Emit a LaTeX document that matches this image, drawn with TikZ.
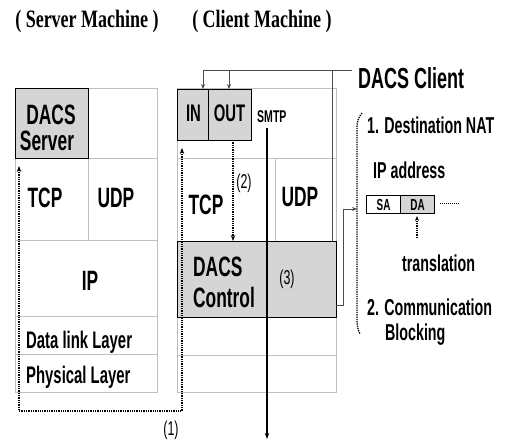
\documentclass[tikz,border=0pt]{standalone}
\usepackage{fontspec}
\newfontfamily\lab[FakeStretch=0.62]{Liberation Sans}
\newfontfamily\hdr[FakeStretch=0.72]{Liberation Serif}
\usetikzlibrary{arrows.meta}
\newcommand\myfs[1]{\fontsize{#1}{#1}\selectfont}
\begin{document}
\begin{tikzpicture}[x=1pt,y=-1pt,
 grid/.style={draw=gray!50,line width=0.7pt},
 shbox/.style={draw=black,line width=1.4pt,fill=gray!33,inner sep=0pt},
 big/.style={font=\lab\bfseries\myfs{28},inner sep=0pt},
 mid/.style={font=\lab\bfseries\myfs{23},inner sep=0pt},
 lay/.style={font=\lab\bfseries\myfs{24},inner sep=0pt},
 num/.style={font=\lab\myfs{20},inner sep=0pt},
 hd/.style={font=\hdr\bfseries\myfs{25},inner sep=0pt},
 dots/.style={densely dotted,line width=1.3pt},
 tip/.style={-{Stealth[length=6pt,width=4.5pt]}},
 stip/.style={-{Stealth[length=5pt,width=4pt]}},
 fb/.style={draw=gray!60!black,line width=0.7pt},
]
\useasboundingbox[fill=white] (0,0) rectangle (507,442);

% headers
\node[hd] (hs) at (87,21) {( Server Machine )};
\node[hd] (hc) at (262,21) {( Client Machine )};

% server stack
\draw[grid] (15,88) rectangle (157,392);
\draw[grid] (15,158) -- (157,158);
\draw[grid] (15,240) -- (157,240);
\draw[grid] (15,316) -- (157,316);
\draw[grid] (15,354) -- (157,354);
\draw[grid] (88,88) -- (88,240);
\node[shbox,anchor=north west,minimum width=73pt,minimum height=70pt] (srv) at (15,88) {};
\node[big,anchor=base] (srvA) at (51,124) {DACS};
\node[big,anchor=base] (srvB) at (47,150) {Server};
\node[big] (stcp) at (45,198) {TCP};
\node[big] (sudp) at (116,198) {UDP};
\node[big] (sip) at (90,281) {IP};
\node[lay,anchor=base west] (sdl) at (26,348) {Data link Layer};
\node[lay,anchor=base west] (sph) at (26,383) {Physical Layer};

% client stack
\draw[grid] (177,88) rectangle (336,392);
\draw[grid] (177,158) -- (336,158);
\draw[grid] (177,317) -- (336,317);
\draw[grid] (177,355) -- (336,355);
\draw[grid] (275,158) -- (275,241);
\node[shbox,anchor=north west,minimum width=31pt,minimum height=51pt] (in) at (177,89) {};
\node[shbox,anchor=north west,minimum width=43pt,minimum height=51pt] (out) at (208,89) {};
\node[big,font=\lab\bfseries\myfs{24}] (inT) at (193.5,113) {IN};
\node[big,font=\lab\bfseries\myfs{24}] (outT) at (229.5,113) {OUT};
\node[shbox,anchor=north west,minimum width=159pt,minimum height=76pt] (ctrl) at (177,241) {};
\node[big,anchor=base west] (ctA) at (193,276) {DACS};
\node[big,anchor=base west] (ctB) at (193,307) {Control};
\node[num] (n3) at (287,279) {(3)};
\node[big] (ctcp) at (206,205) {TCP};
\node[big] (cudp) at (300,197) {UDP};

% SMTP
\node[font=\lab\bfseries\myfs{17},inner sep=0pt,anchor=base west] (smtp) at (257,122) {SMTP};
\coordinate (smA) at (267,128);
\coordinate (smB) at (267,439);
\draw[line width=1.3pt,tip] (smA) -- (smB);

% (2)
\coordinate (o2) at (233,140);
\coordinate (c2) at (233,241);
\draw[dots,tip] (o2) -- (c2);
\node[num] (n2) at (244,183) {(2)};

% (1)
\coordinate (p1) at (19,166);
\coordinate (p2) at (19,411);
\coordinate (p3) at (182,411);
\coordinate (p4) at (182,148);
\draw[dots,{Stealth[length=6pt,width=4.5pt]}-{Stealth[length=6pt,width=4.5pt]}] (p1) -- (p2) -- (p3) -- (p4);
\node[num] (n1) at (171,430) {(1)};

% DACS client feedback
\node[font=\lab\bfseries\myfs{29},inner sep=0pt,anchor=base west] (dc) at (358,88) {DACS Client};
\coordinate (f0) at (352,70);
\coordinate (f1) at (203,70);
\coordinate (f2) at (229,70);
\coordinate (f3) at (332,70);
\coordinate (f4) at (332,241);
\draw[fb] (f0) -- (f1);
\draw[fb,stip] (f1) -- (203,89);
\draw[fb,stip] (f2) -- (229,89);
\draw[fb] (f3) -- (f4);
\coordinate (g0) at (336,305);
\coordinate (g1) at (343,305);
\coordinate (g2) at (343,209);
\coordinate (g3) at (357,209);
\draw[fb,stip] (g0) -- (g1) -- (g2) -- (g3);

% bracket
\draw[dots] (362,113) .. controls (358,118) and (357,122) .. (357,128) -- (357,320) .. controls (357,326) and (358,330) .. (360,334);

% right texts
\node[mid,anchor=base west] (t1) at (367,133) {1. Destination NAT};
\node[mid,anchor=base west] (t2) at (373,178) {IP address};
\node[draw,line width=1.2pt,minimum width=34pt,minimum height=18pt,anchor=north west,inner sep=0pt,font=\lab\bfseries\myfs{16}] (sa) at (366,195) {SA};
\node[draw,line width=1.2pt,fill=gray!33,minimum width=34pt,minimum height=18pt,anchor=north west,inner sep=0pt,font=\lab\bfseries\myfs{16}] (da) at (400,195) {DA};
\coordinate (d0) at (440,203);
\coordinate (d1) at (460,203);
\draw[densely dotted,line width=1pt] (d0) -- (d1);
\coordinate (tr0) at (417,238);
\coordinate (tr1) at (417,216);
\draw[dots,stip] (tr0) -- (tr1);
\node[mid,anchor=base west] (t3) at (402,271) {translation};
\node[mid,anchor=base west] (t4) at (367,315) {2. Communication};
\node[mid,anchor=base west] (t5) at (385,340) {Blocking};
\end{tikzpicture}
\end{document}
